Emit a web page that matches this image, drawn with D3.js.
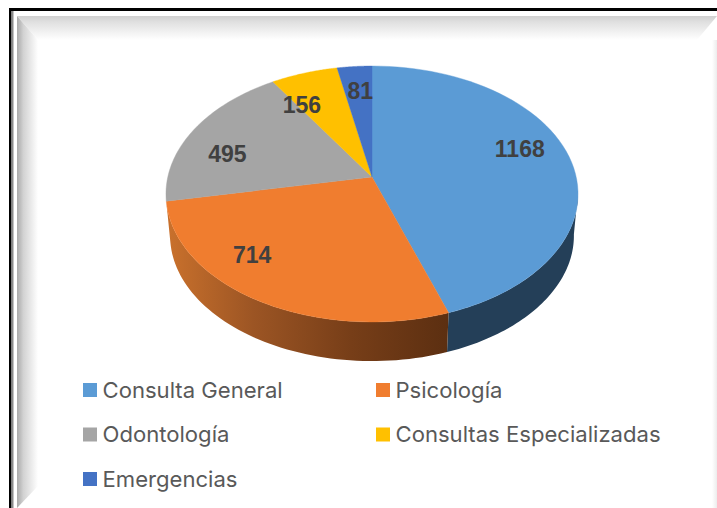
<!DOCTYPE html>
<html>
<head>
<meta charset="utf-8">
<script src="https://cdn.jsdelivr.net/npm/d3@7"></script>
<style>
  html, body { margin: 0; padding: 0; background: #fff; overflow: hidden; }
</style>
</head>
<body>
<div id="graph-container"></div>
<script>
// Dati
const categories = ["Consulta General", "Psicología", "Odontología", "Consultas Especializadas", "Emergencias"];
const values = [1168, 714, 495, 156, 81];
const colors = ["#5b9bd5", "#f07d2f", "#a5a5a5", "#ffc000", "#4472c4"];

const width = 717, height = 508;

const svg = d3.select("#graph-container").append("svg")
  .attr("width", width)
  .attr("height", height)
  .style("display", "block");

const defs = svg.append("defs");

function gradient(id, x1, y1, x2, y2, stops) {
  const g = defs.append("linearGradient").attr("id", id)
    .attr("gradientUnits", "userSpaceOnUse")
    .attr("x1", x1).attr("y1", y1).attr("x2", x2).attr("y2", y2);
  stops.forEach(s => g.append("stop").attr("offset", s[0]).attr("stop-color", s[1]));
}

// Cornice con smussatura
gradient("bevelTop", 0, 16, 0, 40, [[0, "#d0d0d0"], [0.25, "#e0e0e0"], [1, "#ffffff"]]);
gradient("bevelLeft", 17, 0, 38, 0, [[0, "#a8a8a8"], [0.3, "#d2d2d2"], [1, "#ffffff"]]);
gradient("bevelRight", 712, 0, 717, 0, [[0, "#ffffff"], [1, "#ececec"]]);

svg.append("path").attr("d", "M17,16L717,16L697,40L38,40Z").attr("fill", "url(#bevelTop)");
svg.append("path").attr("d", "M17,16L38,40L38,486L17,508Z").attr("fill", "url(#bevelLeft)");
svg.append("rect").attr("x", 712).attr("y", 40).attr("width", 5).attr("height", 468).attr("fill", "url(#bevelRight)");
svg.append("rect").attr("x", 9).attr("y", 8).attr("width", 708).attr("height", 3).attr("fill", "#000");
svg.append("rect").attr("x", 9).attr("y", 8).attr("width", 2.5).attr("height", 500).attr("fill", "#000");
svg.append("rect").attr("x", 12).attr("y", 11).attr("width", 1.5).attr("height", 497).attr("fill", "#8a8a8a");

// Torta in prospettiva: omografia del cerchio unitario
const cx = 372, cy = 177, rxTop = 204.2, ryTop = 125.7, persp = 0.1328;
const depthY = 42, depthScale = 0.98;

function project(a, r, lower) {
  const u = r * Math.sin(a), v = r * Math.cos(a);
  const w = 1 + persp * v;
  const s = lower ? depthScale : 1;
  return [cx + s * rxTop * u / w, cy + (lower ? depthY : 0) - s * ryTop * v / w];
}

const pie = d3.pie().sort(null)(values);
const line = d3.line();

function arcPoints(a0, a1, lower) {
  return d3.range(0, 61).map(i => project(a0 + (a1 - a0) * i / 60, 1, lower));
}

// Lati visibili (sotto la faccia superiore)
gradient("sideOrange", 170, 0, 448, 0, [[0, "#c8702c"], [0.3, "#9c5524"], [0.65, "#773e18"], [1, "#5c2f11"]]);

const rad = Math.PI / 180;
svg.append("path")
  .attr("d", line(arcPoints(97 * rad, pie[0].endAngle, false).concat(arcPoints(pie[0].endAngle, 97 * rad, true))) + "Z")
  .attr("fill", "#243f58");
svg.append("path")
  .attr("d", line(arcPoints(pie[1].startAngle, pie[1].endAngle, false).concat(arcPoints(pie[1].endAngle, pie[1].startAngle, true))) + "Z")
  .attr("fill", "url(#sideOrange)");

// Faccia superiore
svg.append("g").selectAll("path")
  .data(pie)
  .enter()
  .append("path")
  .attr("d", d => line([[cx, cy]].concat(arcPoints(d.startAngle, d.endAngle, false))) + "Z")
  .attr("fill", (d, i) => colors[i])
  .attr("stroke", (d, i) => colors[i])
  .attr("stroke-width", 0.4);

// Etichette
const labelNudge = [[9, -14], [-42, -5], [-18, 10], [-21, 3], [1, -6]];
svg.append("g").selectAll("text")
  .data(pie)
  .enter()
  .append("text")
  .attr("x", (d, i) => project((d.startAngle + d.endAngle) / 2, 0.7)[0] + labelNudge[i][0])
  .attr("y", (d, i) => project((d.startAngle + d.endAngle) / 2, 0.7)[1] + labelNudge[i][1])
  .attr("dy", "0.36em")
  .attr("text-anchor", "middle")
  .attr("font-family", "'Liberation Sans', Arial, sans-serif")
  .attr("font-weight", "bold")
  .attr("font-size", 23)
  .attr("fill", "#404040")
  .text(d => d.value);

// Legenda
const legendX = d3.scalePoint().domain([0, 1]).range([83, 376]);
const legendY = d3.scalePoint().domain([0, 1, 2]).range([390, 479]);
const legend = svg.append("g").selectAll("g")
  .data(categories)
  .enter()
  .append("g")
  .attr("transform", (d, i) => `translate(${legendX(i % 2)},${legendY(Math.floor(i / 2))})`);

legend.append("rect")
  .attr("y", -7).attr("width", 14).attr("height", 14)
  .attr("fill", (d, i) => colors[i]);

legend.append("text")
  .attr("x", 19.5)
  .attr("dy", "0.36em")
  .attr("font-family", "Inter, sans-serif")
  .attr("font-size", 22.1)
  .attr("fill", "#595959")
  .text(d => d);
</script>
</body>
</html>
